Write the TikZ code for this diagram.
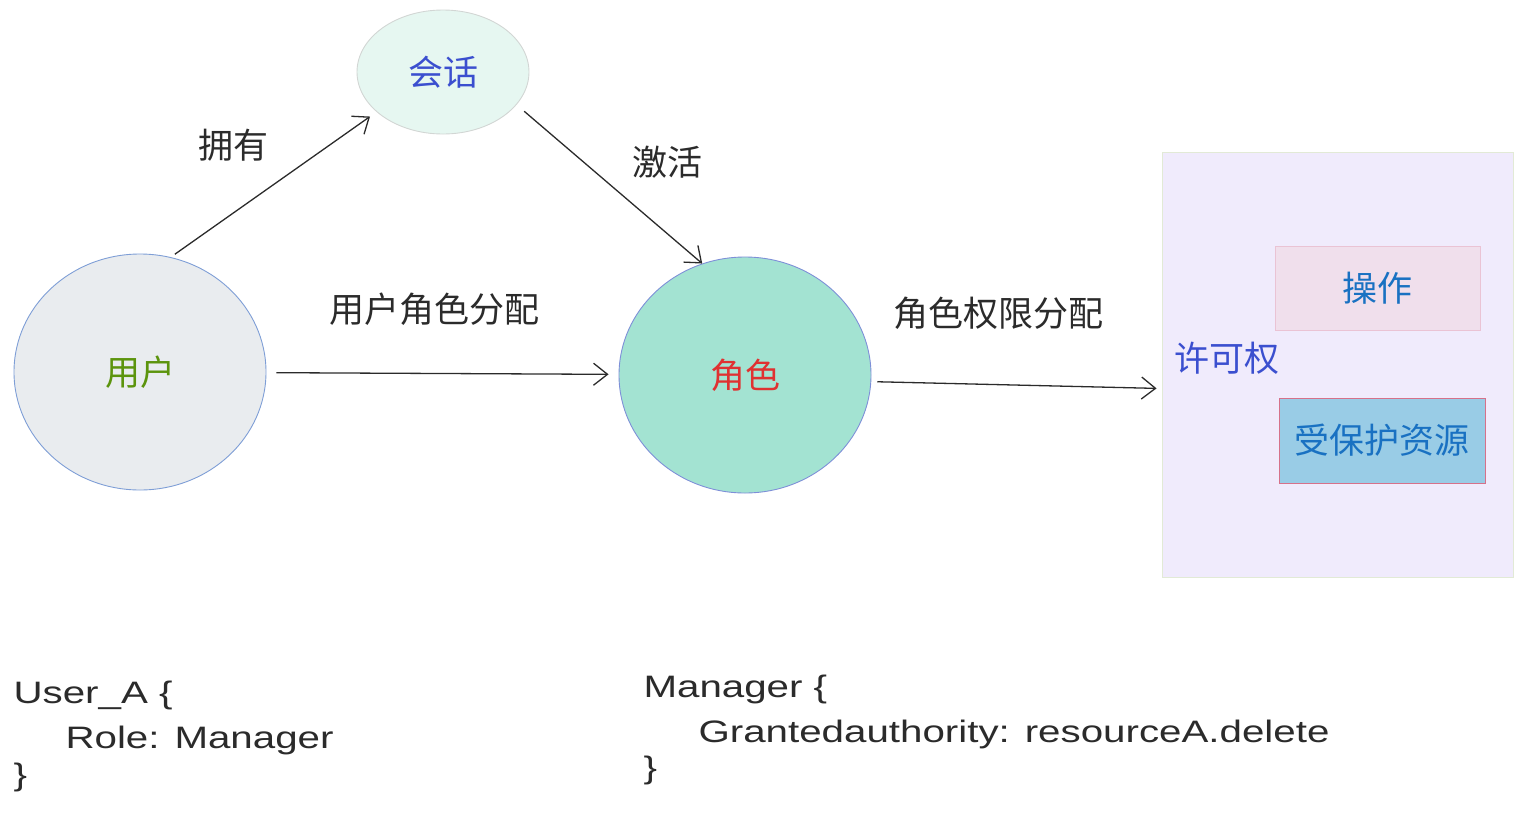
\documentclass[tikz,border=0pt]{standalone}
\usepackage{fontspec}
\setmainfont{Liberation Sans}
\newfontfamily\cjk{Noto Sans CJK SC}
\newfontfamily\hand[FakeStretch=1.3]{Liberation Sans}
\usetikzlibrary{arrows.meta,shapes.geometric}
\definecolor{userfill}{HTML}{E9ECEF}
\definecolor{userline}{HTML}{7E9ED6}
\definecolor{usertext}{HTML}{5C940D}
\definecolor{sessfill}{HTML}{E6F7F1}
\definecolor{sessline}{HTML}{D2D6D4}
\definecolor{indigo}{HTML}{3B4FCF}
\definecolor{rolefill}{HTML}{A3E3D2}
\definecolor{roleline}{HTML}{7E8FD8}
\definecolor{roletext}{HTML}{E03131}
\definecolor{permfill}{HTML}{F0EBFC}
\definecolor{permline}{HTML}{E2EAD6}
\definecolor{opfill}{HTML}{F0DFEC}
\definecolor{opline}{HTML}{EAC3D4}
\definecolor{resfill}{HTML}{99CCE6}
\definecolor{resline}{HTML}{D6718A}
\definecolor{boxtext}{HTML}{1971C2}
\definecolor{ink}{HTML}{2B2B2B}
\tikzset{
  cjkfont/.style={font=\cjk\fontsize{35}{40}\selectfont},
  bubble/.style={ellipse, draw, line width=0.9pt, inner sep=0pt, cjkfont},
  rbox/.style={rectangle, draw, line width=0.9pt, inner sep=0pt, cjkfont},
  arr/.style={draw=ink, line width=1.3pt, -{Straight Barb[length=14pt,width=22pt,line width=1.3pt]}},
  lbl/.style={cjkfont, text=ink},
  code/.style={anchor=base west, text=ink, font=\hand\fontsize{31}{36}\selectfont}
}
\begin{document}
\begin{tikzpicture}[x=1pt,y=-1pt]
\useasboundingbox (0,0) rectangle (1523,812);
% nodes
\node[bubble, fill=userfill, draw=userline, text=usertext, minimum width=252pt, minimum height=236pt] (user) at (140,372) {用户};
\node[bubble, fill=sessfill, draw=sessline, text=indigo, minimum width=172pt, minimum height=124pt] (sess) at (443,72) {会话};
\node[bubble, fill=rolefill, draw=roleline, text=roletext, minimum width=252pt, minimum height=236pt] (role) at (745,375) {角色};
\node[rbox, fill=permfill, draw=permline, minimum width=351pt, minimum height=425pt] (perm) at (1337.5,364.5) {};
\node[rbox, fill=opfill, draw=opline, text=boxtext, minimum width=205pt, minimum height=84pt] (op) at (1377.5,288) {操作};
\node[rbox, fill=resfill, draw=resline, text=boxtext, minimum width=206pt, minimum height=85pt] (res) at (1382,440.5) {受保护资源};
\node[cjkfont, text=indigo] (permlbl) at (1227,358) {许可权};
% connectors
\draw[arr, shorten <=5pt, shorten >=8pt] (user.75) -- (sess.211);
\draw[arr, shorten <=10pt] (sess.-24) -- (role.111);
\draw[arr, shorten <=10pt, shorten >=10pt] (user) -- (role);
\draw[arr, shorten <=6pt, shorten >=5pt] (role.-3) -- ([yshift=-24pt]perm.west);
% labels
\node[lbl] (l1) at (233,145) {拥有};
\node[lbl] (l2) at (667,162) {激活};
\node[lbl] (l3) at (434,309) {用户角色分配};
\node[lbl] (l4) at (998,313) {角色权限分配};
% code
\node[code] (c1) at (10,703) {User\_A \{};
\node[code] (c2) at (62,748) {Role: Manager};
\node[code] (c3) at (10,785) {\}};
\node[code] (d1) at (640,697) {Manager \{};
\node[code] (d2) at (695,742) {Grantedauthority: resourceA.delete};
\node[code] (d3) at (640,778) {\}};
\end{tikzpicture}
\end{document}
